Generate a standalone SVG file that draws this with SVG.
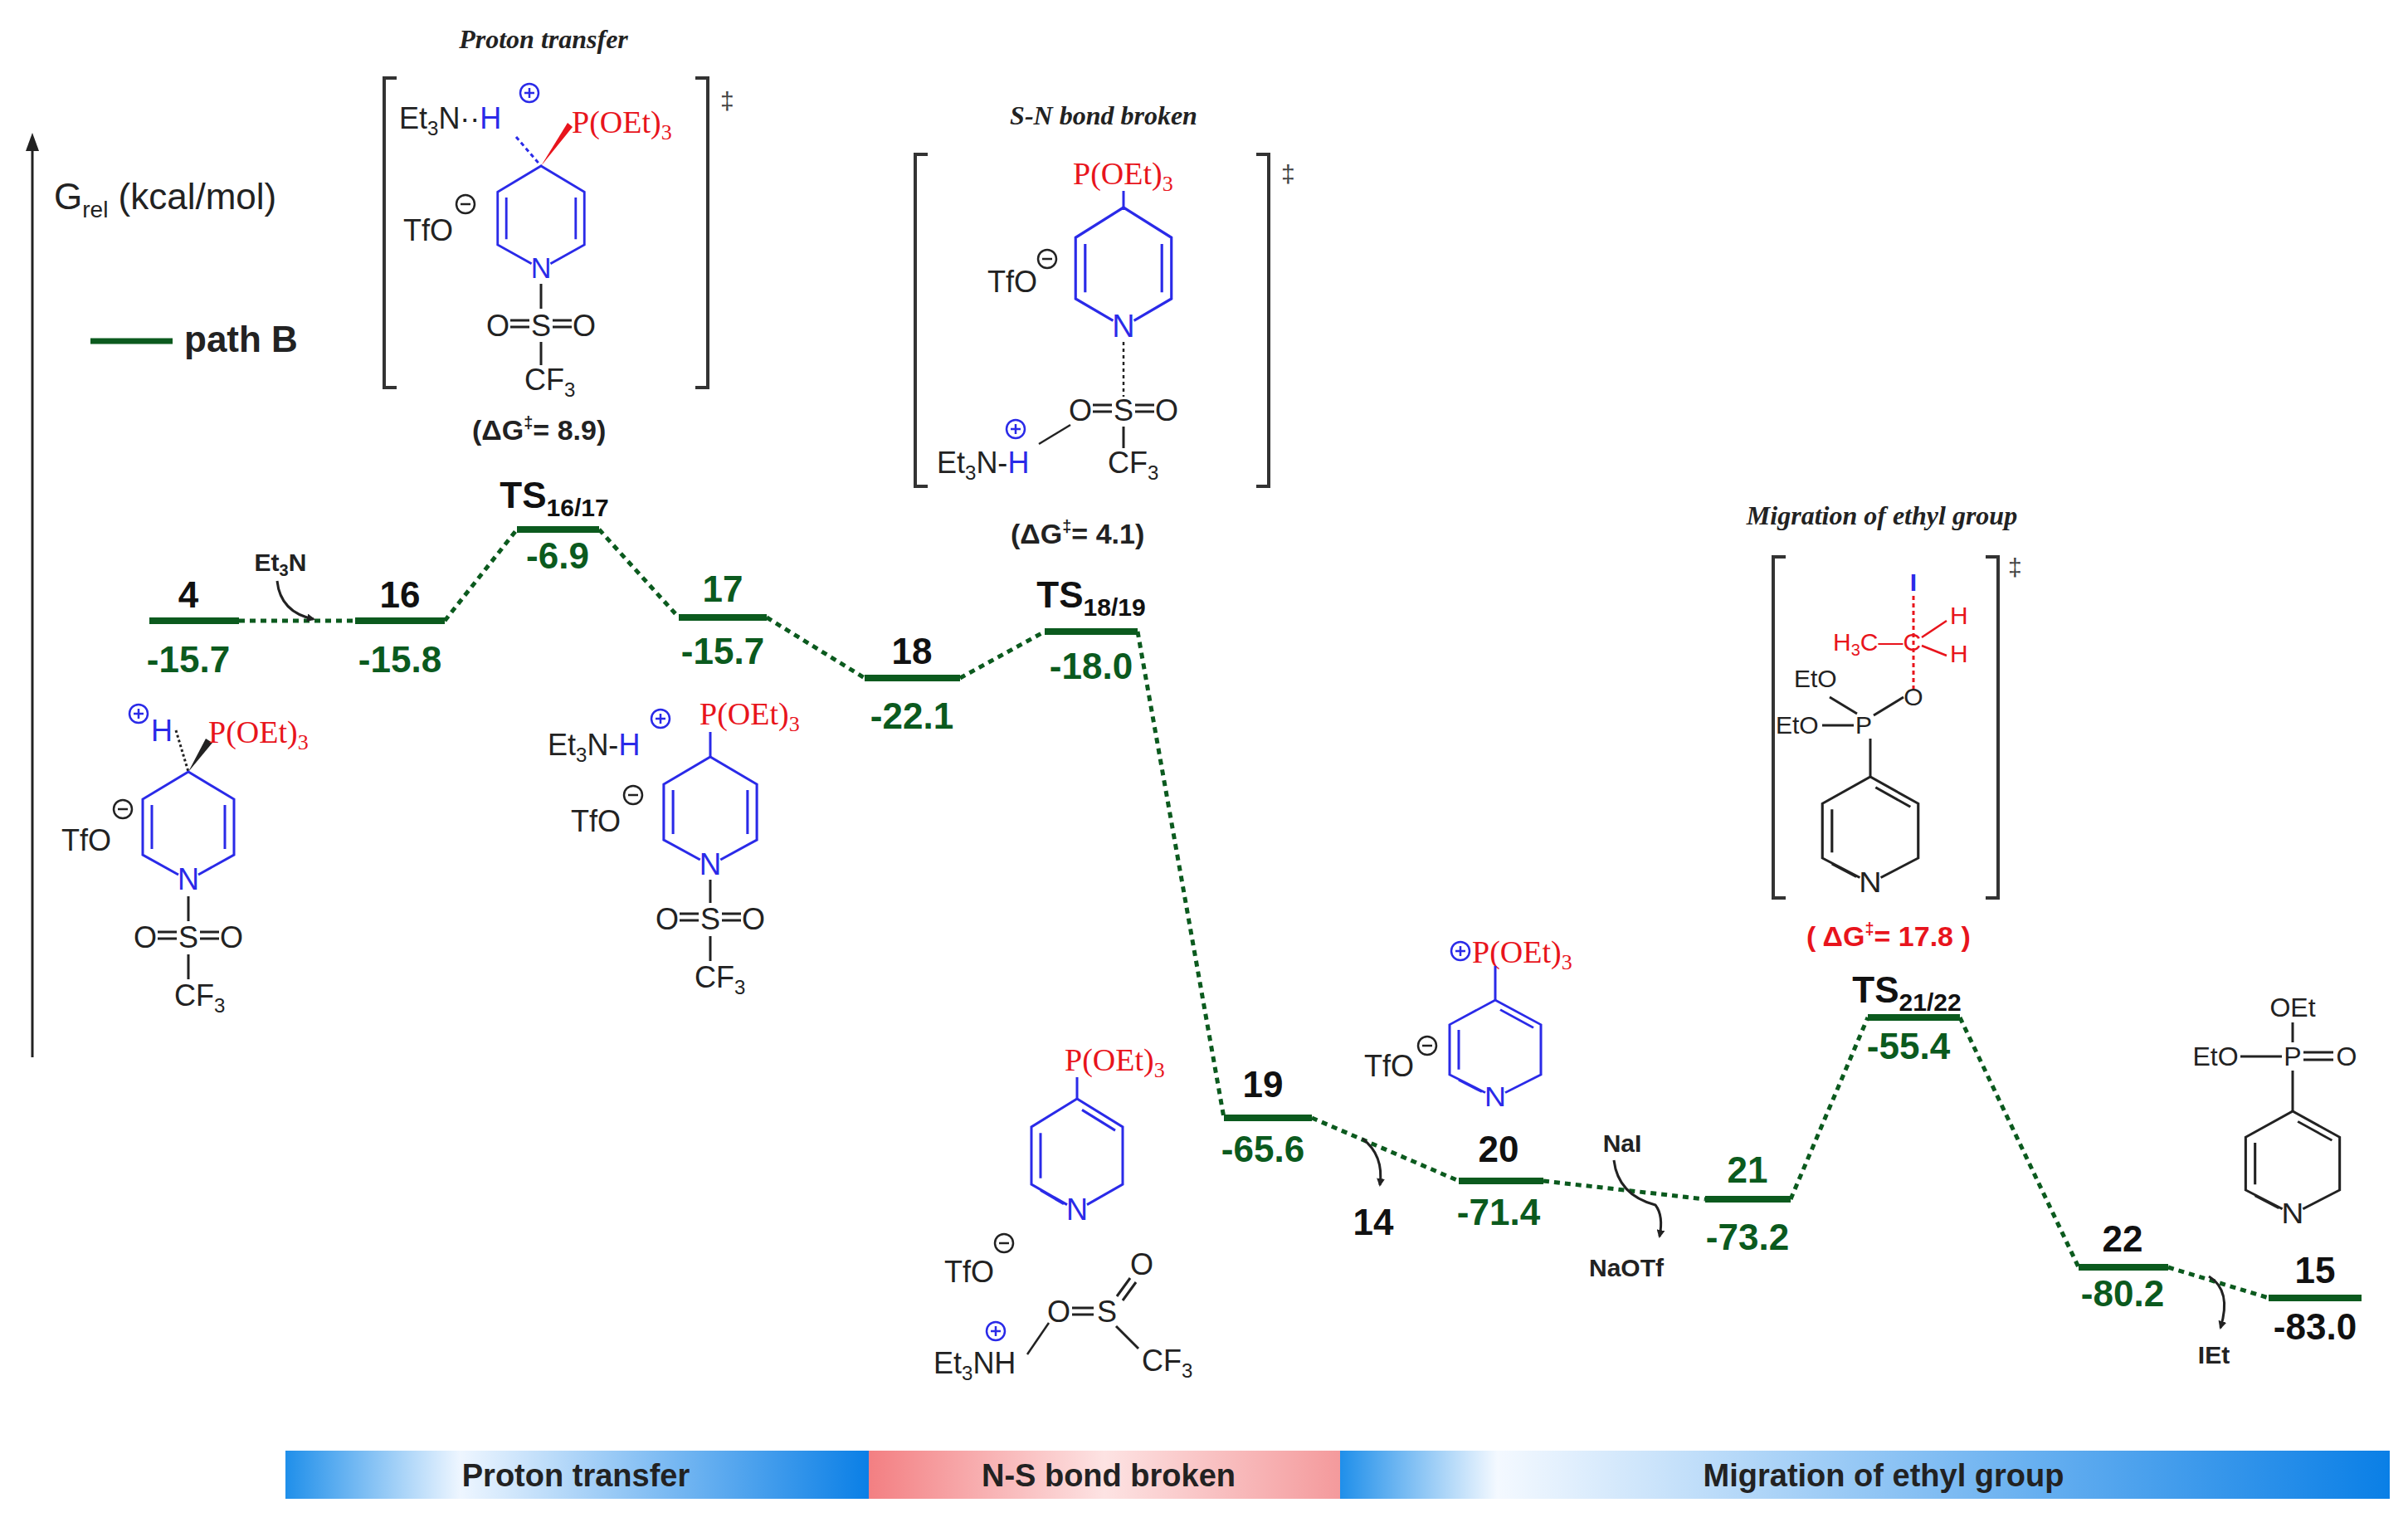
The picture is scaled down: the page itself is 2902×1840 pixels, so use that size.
<svg xmlns="http://www.w3.org/2000/svg" width="2902" height="1840" viewBox="0 0 2902 1840">
<style>
text{font-family:"Liberation Sans",Arial,sans-serif}
.lvl{stroke:#0b5a1e;stroke-width:8;fill:none}
.dot{stroke:#0b5a1e;stroke-width:5;stroke-dasharray:7 6;fill:none}
.num{font-size:44px;font-weight:bold;text-anchor:middle;fill:#111}
.gnum{font-size:44px;font-weight:bold;text-anchor:middle;fill:#0b5a1e}
.m{font-size:36px;fill:#222}
.c{text-anchor:middle}
.r{font-family:"Liberation Serif",serif;font-size:38px;fill:#e8141c}
.ti{font-family:"Liberation Serif",serif;font-style:italic;font-weight:bold;font-size:32px;text-anchor:middle;fill:#222}
.bd{stroke:#222;stroke-width:3;fill:none}
.sm{font-size:30px;font-weight:bold;text-anchor:middle;fill:#222}
.br{stroke:#333;stroke-width:4;fill:none}
.bar{font-size:38px;font-weight:bold;text-anchor:middle;fill:#222}
.blue{fill:#2a2ae8}
</style>
<defs>
<marker id="ah" markerWidth="10" markerHeight="10" refX="8" refY="5" orient="auto" markerUnits="userSpaceOnUse"><path d="M0,0 L10,5 L0,10 Z" fill="#222"/></marker>
<g id="dhp" stroke-width="3"><path fill="none" d="M-12,124 L-55,100 L-55,33 L0,0 L55,33 L55,100 L12,124 M-44,40 L-44,93 M44,40 L44,93"/><text x="0" y="142" text-anchor="middle" font-size="36" stroke="none">N</text></g>
<g id="pyr" stroke-width="3"><path fill="none" d="M-12,124 L-55,100 L-55,33 L0,0 L55,33 L55,100 L12,124 M-44,40 L-44,93 M6,13 L46,37 M-44,107 L-16,123"/><text x="0" y="142" text-anchor="middle" font-size="36" stroke="none">N</text></g>
<g id="circp"><circle r="11" fill="none" stroke-width="2.5"/><path d="M-6,0 H6 M0,-6 V6" stroke-width="2.5"/></g>
<g id="circm"><circle r="11" fill="none" stroke="#222" stroke-width="2.5"/><path d="M-6,0 H6" stroke="#222" stroke-width="2.5"/></g>
<linearGradient id="gb1" x1="0" x2="1"><stop offset="0" stop-color="#1f8fea"/><stop offset="0.3" stop-color="#eef6ff"/><stop offset="1" stop-color="#0a7fe6"/></linearGradient>
<linearGradient id="gp" x1="0" x2="1"><stop offset="0" stop-color="#f37f82"/><stop offset="0.5" stop-color="#fde3e3"/><stop offset="1" stop-color="#f49a9c"/></linearGradient>
<linearGradient id="gb2" x1="0" x2="1"><stop offset="0" stop-color="#1f8fea"/><stop offset="0.15" stop-color="#f4f9ff"/><stop offset="1" stop-color="#0a7fe6"/></linearGradient>
</defs>

<g id="axis">
<path d="M39,1274 V178" stroke="#222" stroke-width="3"/><path d="M31,182 L39,160 L47,182 Z" fill="#222"/>
<text x="65" y="252" font-size="44" fill="#222">G<tspan font-size="28" dy="10">rel</tspan><tspan dy="-10"> (kcal/mol)</tspan></text>
<path d="M109,411 H208" stroke="#0b5a1e" stroke-width="7"/>
<text x="222" y="424" font-size="44" font-weight="bold" fill="#222">path B</text>
</g>

<g id="connectors">
<path class="dot" d="M288,748 H428"/>
<path class="dot" d="M536,748 L623,638"/>
<path class="dot" d="M722,638 L818,744"/>
<path class="dot" d="M924,744 L1042,817"/>
<path class="dot" d="M1157,817 L1259,761"/>
<path class="dot" d="M1371,761 L1475,1347"/>
<path class="dot" d="M1581,1347 L1758,1423"/>
<path class="dot" d="M1860,1423 L2055,1445"/>
<path class="dot" d="M2158,1445 L2251,1226"/>
<path class="dot" d="M2362,1226 L2505,1527"/>
<path class="dot" d="M2613,1527 L2734,1564"/>
<path d="M334,700 Q338,738 378,746" stroke="#222" stroke-width="3" fill="none" marker-end="url(#ah)"/>
<path d="M1642,1372 Q1668,1392 1663,1428" stroke="#222" stroke-width="3" fill="none" marker-end="url(#ah)"/>
<path d="M1945,1398 Q1950,1440 1995,1452 Q2005,1465 2000,1490" stroke="#222" stroke-width="3" fill="none" marker-end="url(#ah)"/>
<path d="M2662,1538 Q2690,1555 2676,1600" stroke="#222" stroke-width="3" fill="none" marker-end="url(#ah)"/>
</g>

<g id="levels">
<path class="lvl" d="M180,748 H288 M428,748 H536 M623,638 H722 M818,744 H924 M1042,817 H1157 M1259,761 H1371 M1475,1347 H1581 M1758,1423 H1860 M2055,1445 H2158 M2251,1226 H2362 M2505,1527 H2613 M2734,1564 H2846"/>
<text class="num" x="227" y="732">4</text><text class="gnum" x="227" y="810">-15.7</text>
<text x="338" y="688" class="sm" font-size="28">Et<tspan font-size="20" dy="6">3</tspan><tspan dy="-6">N</tspan></text>
<text class="num" x="482" y="732">16</text><text class="gnum" x="482" y="810">-15.8</text>
<text class="num" x="668" y="612">TS<tspan font-size="30" dy="10">16/17</tspan></text><text class="gnum" x="672" y="685">-6.9</text>
<text class="gnum" x="871" y="725">17</text><text class="gnum" x="871" y="800">-15.7</text>
<text class="num" x="1099" y="800">18</text><text class="gnum" x="1099" y="878">-22.1</text>
<text class="num" x="1315" y="732">TS<tspan font-size="30" dy="10">18/19</tspan></text><text class="gnum" x="1315" y="818">-18.0</text>
<text class="num" x="1522" y="1322">19</text><text class="gnum" x="1522" y="1400">-65.6</text>
<text class="num" x="1655" y="1488">14</text>
<text class="num" x="1806" y="1400">20</text><text class="gnum" x="1806" y="1476">-71.4</text>
<text class="sm" x="1955" y="1388">NaI</text><text class="sm" x="1960" y="1538">NaOTf</text>
<text class="gnum" x="2106" y="1425" font-family="Liberation Serif,serif">21</text><text class="gnum" x="2106" y="1506">-73.2</text>
<text class="num" x="2298" y="1208" font-family="Liberation Serif,serif">TS<tspan font-size="30" dy="10">21/22</tspan></text><text class="gnum" x="2300" y="1276">-55.4</text>
<text class="num" x="2558" y="1508">22</text><text class="gnum" x="2558" y="1574">-80.2</text>
<text class="num" x="2790" y="1546">15</text><text class="num" x="2790" y="1614">-83.0</text>
<text class="sm" x="2668" y="1643" font-family="Liberation Serif,serif">IEt</text>
</g>

<g id="ts1617">
<text class="ti" x="655" y="58">Proton transfer</text>
<path class="br" d="M478,94 H463 V467 H478 M838,94 H853 V467 H838"/>
<text x="868" y="132" font-size="30" fill="#444">‡</text>
<text class="m" x="481" y="155">Et<tspan font-size="24" dy="8">3</tspan><tspan dy="-8">N··</tspan><tspan class="blue">H</tspan></text>
<use href="#circp" x="638" y="112" stroke="#2a2ae8"/>
<path d="M622,165 L652,200" stroke="#2a2ae8" stroke-width="3" stroke-dasharray="5 4"/>
<path d="M652,200 L684,148 L690,153 Z" fill="#e8141c"/>
<text class="r" x="689" y="160">P(OEt)<tspan font-size="26" dy="8">3</tspan></text>
<use href="#dhp" stroke="#2a2ae8" fill="#2a2ae8" transform="translate(652,200) scale(0.95)"/>
<text class="m" x="486" y="290">TfO</text><use href="#circm" x="561" y="246"/>
<path class="bd" d="M652,342 V372"/>
<text class="m c" x="600" y="405">O</text><text class="m c" x="652" y="405">S</text><text class="m c" x="704" y="405">O</text>
<path class="bd" d="M615,386 H638 M615,394 H638 M666,386 H689 M666,394 H689 M652,412 V440"/>
<text class="m" x="632" y="470">CF<tspan font-size="24" dy="8">3</tspan></text>
<text x="569" y="530" font-size="34" font-weight="bold" fill="#222">(ΔG<tspan font-size="20" dy="-14">‡</tspan><tspan dy="14">= 8.9)</tspan></text>
</g>

<g id="tssn">
<text class="ti" x="1330" y="150">S-N bond broken</text>
<path class="br" d="M1118,186 H1103 V586 H1118 M1514,186 H1529 V586 H1514"/>
<text x="1544" y="220" font-size="30" fill="#444">‡</text>
<text class="r" x="1293" y="222">P(OEt)<tspan font-size="26" dy="8">3</tspan></text>
<path d="M1354,230 V250" stroke="#2a2ae8" stroke-width="3"/>
<use href="#dhp" stroke="#2a2ae8" fill="#2a2ae8" transform="translate(1354,250) scale(1.05,1.1)"/>
<text class="m" x="1190" y="352">TfO</text><use href="#circm" x="1262" y="312"/>
<path d="M1354,412 V478" stroke="#222" stroke-width="2.5" stroke-dasharray="4 4"/>
<text class="m c" x="1302" y="507">O</text><text class="m c" x="1354" y="507">S</text><text class="m c" x="1406" y="507">O</text>
<path class="bd" d="M1317,488 H1340 M1317,496 H1340 M1368,488 H1391 M1368,496 H1391 M1354,514 V540"/>
<text class="m" x="1335" y="570">CF<tspan font-size="24" dy="8">3</tspan></text>
<text class="m" x="1129" y="570">Et<tspan font-size="24" dy="8">3</tspan><tspan dy="-8">N-</tspan><tspan class="blue">H</tspan></text>
<use href="#circp" x="1224" y="517" stroke="#2a2ae8"/>
<path d="M1252,535 L1290,512" stroke="#222" stroke-width="2.5"/>
<text x="1218" y="655" font-size="34" font-weight="bold" fill="#222">(ΔG<tspan font-size="20" dy="-14">‡</tspan><tspan dy="14">= 4.1)</tspan></text>
</g>

<g id="mol4">
<use href="#circp" x="167" y="860" stroke="#2a2ae8"/>
<text class="m blue" x="182" y="893">H</text>
<path d="M212,880 L227,930" stroke="#222" stroke-width="3" stroke-dasharray="3 3"/>
<path d="M227,930 L248,890 L256,895 Z" fill="#222"/>
<text class="r" x="251" y="895">P(OEt)<tspan font-size="26" dy="8">3</tspan></text>
<use href="#dhp" stroke="#2a2ae8" fill="#2a2ae8" transform="translate(227,930)"/>
<text class="m" x="74" y="1025">TfO</text><use href="#circm" x="148" y="975"/>
<path class="bd" d="M227,1080 V1110"/>
<text class="m c" x="175" y="1142">O</text><text class="m c" x="227" y="1142">S</text><text class="m c" x="279" y="1142">O</text>
<path class="bd" d="M190,1123 H213 M190,1131 H213 M241,1123 H264 M241,1131 H264 M227,1150 V1180"/>
<text class="m" x="210" y="1212">CF<tspan font-size="24" dy="8">3</tspan></text>
</g>

<g id="mol17">
<text class="m" x="660" y="910">Et<tspan font-size="24" dy="8">3</tspan><tspan dy="-8">N-</tspan><tspan class="blue">H</tspan></text>
<use href="#circp" x="796" y="866" stroke="#2a2ae8"/>
<text class="r" x="843" y="873">P(OEt)<tspan font-size="26" dy="8">3</tspan></text>
<path d="M856,882 V912" stroke="#2a2ae8" stroke-width="3"/>
<use href="#dhp" stroke="#2a2ae8" fill="#2a2ae8" transform="translate(856,912) scale(1.02,1.0)"/>
<text class="m" x="688" y="1002">TfO</text><use href="#circm" x="763" y="958"/>
<path class="bd" d="M856,1060 V1088"/>
<text class="m c" x="804" y="1120">O</text><text class="m c" x="856" y="1120">S</text><text class="m c" x="908" y="1120">O</text>
<path class="bd" d="M819,1101 H842 M819,1109 H842 M870,1101 H893 M870,1109 H893 M856,1128 V1158"/>
<text class="m" x="837" y="1190">CF<tspan font-size="24" dy="8">3</tspan></text>
</g>

<g id="mol19">
<text class="r" x="1283" y="1290">P(OEt)<tspan font-size="26" dy="8">3</tspan></text>
<path d="M1298,1298 V1324" stroke="#2a2ae8" stroke-width="3"/>
<use href="#pyr" stroke="#2a2ae8" fill="#2a2ae8" transform="translate(1298,1324) scale(1,1.03)"/>
<text class="m" x="1138" y="1545">TfO</text><use href="#circm" x="1210" y="1498"/>
<text class="m c" x="1276" y="1593">O</text>
<text class="m c" x="1334" y="1593">S</text>
<text class="m c" x="1376" y="1536">O</text>
<path class="bd" d="M1292,1576 H1318 M1292,1584 H1318 M1346,1562 L1362,1540 M1353,1567 L1369,1545 M1345,1598 L1372,1625"/>
<text class="m" x="1376" y="1652">CF<tspan font-size="24" dy="8">3</tspan></text>
<text class="m" x="1125" y="1655">Et<tspan font-size="24" dy="8">3</tspan><tspan dy="-8">NH</tspan></text>
<use href="#circp" x="1200" y="1604" stroke="#2a2ae8"/>
<path d="M1238,1632 L1264,1594" stroke="#222" stroke-width="2.5"/>
</g>

<g id="mol20">
<use href="#circp" x="1760" y="1146" stroke="#2a2ae8"/>
<text class="r" x="1774" y="1160">P(OEt)<tspan font-size="26" dy="8">3</tspan></text>
<path d="M1802,1164 V1205" stroke="#2a2ae8" stroke-width="3"/>
<use href="#pyr" stroke="#2a2ae8" fill="#2a2ae8" transform="translate(1802,1205) scale(1,0.9)"/>
<text class="m" x="1644" y="1297">TfO</text><use href="#circm" x="1720" y="1260"/>
</g>

<g id="ts2122">
<text class="ti" x="2268" y="632">Migration of ethyl group</text>
<path class="br" d="M2152,671 H2137 V1082 H2152 M2393,671 H2408 V1082 H2393"/>
<text x="2420" y="694" font-size="30" fill="#444">‡</text>
<text x="2306" y="712" font-size="30" font-weight="bold" fill="#2a2ae8" text-anchor="middle">I</text>
<path d="M2306,718 V830" stroke="#e8141c" stroke-width="3" stroke-dasharray="5 4"/>
<text x="2209" y="784" font-size="30" fill="#e8141c">H<tspan font-size="20" dy="6">3</tspan><tspan dy="-6">C—C</tspan></text>
<path d="M2316,768 L2346,748 M2316,778 L2346,790" stroke="#e8141c" stroke-width="2.5"/>
<text x="2350" y="752" font-size="30" fill="#e8141c">H</text><text x="2350" y="798" font-size="30" fill="#e8141c">H</text>
<text x="2306" y="850" font-size="30" fill="#222" text-anchor="middle">O</text>
<text x="2162" y="828" font-size="30" fill="#222">EtO</text>
<text x="2140" y="884" font-size="30" fill="#222">EtO</text>
<text x="2246" y="884" font-size="30" fill="#222" text-anchor="middle">P</text>
<path class="bd" d="M2205,840 L2238,860 M2196,874 H2234 M2258,862 L2294,840 M2254,890 V936"/>
<use href="#pyr" stroke="#222" fill="#222" transform="translate(2254,936) scale(1.05,0.98)"/>
<text x="2177" y="1140" font-size="34" font-weight="bold" fill="#e8141c">( ΔG<tspan font-size="20" dy="-14">‡</tspan><tspan dy="14">= 17.8 )</tspan></text>
</g>

<g id="mol15">
<text x="2763" y="1225" font-size="32" fill="#222" text-anchor="middle">OEt</text>
<text x="2670" y="1284" font-size="32" fill="#222" text-anchor="middle">EtO</text>
<text x="2763" y="1284" font-size="32" fill="#222" text-anchor="middle">P</text>
<text x="2828" y="1284" font-size="32" fill="#222" text-anchor="middle">O</text>
<path class="bd" d="M2763,1232 V1256 M2700,1273 H2750 M2776,1268 H2812 M2776,1277 H2812 M2763,1290 V1339"/>
<use href="#pyr" stroke="#222" fill="#222" transform="translate(2763,1339) scale(1.03,0.95)"/>
</g>

<g id="bars">
<rect x="344" y="1748" width="703" height="58" fill="url(#gb1)"/>
<rect x="1047" y="1748" width="568" height="58" fill="url(#gp)"/>
<rect x="1615" y="1748" width="1265" height="58" fill="url(#gb2)"/>
<text class="bar" x="694" y="1791">Proton transfer</text>
<text class="bar" x="1336" y="1791">N-S bond broken</text>
<text class="bar" x="2270" y="1791">Migration of ethyl group</text>
</g>
</svg>
